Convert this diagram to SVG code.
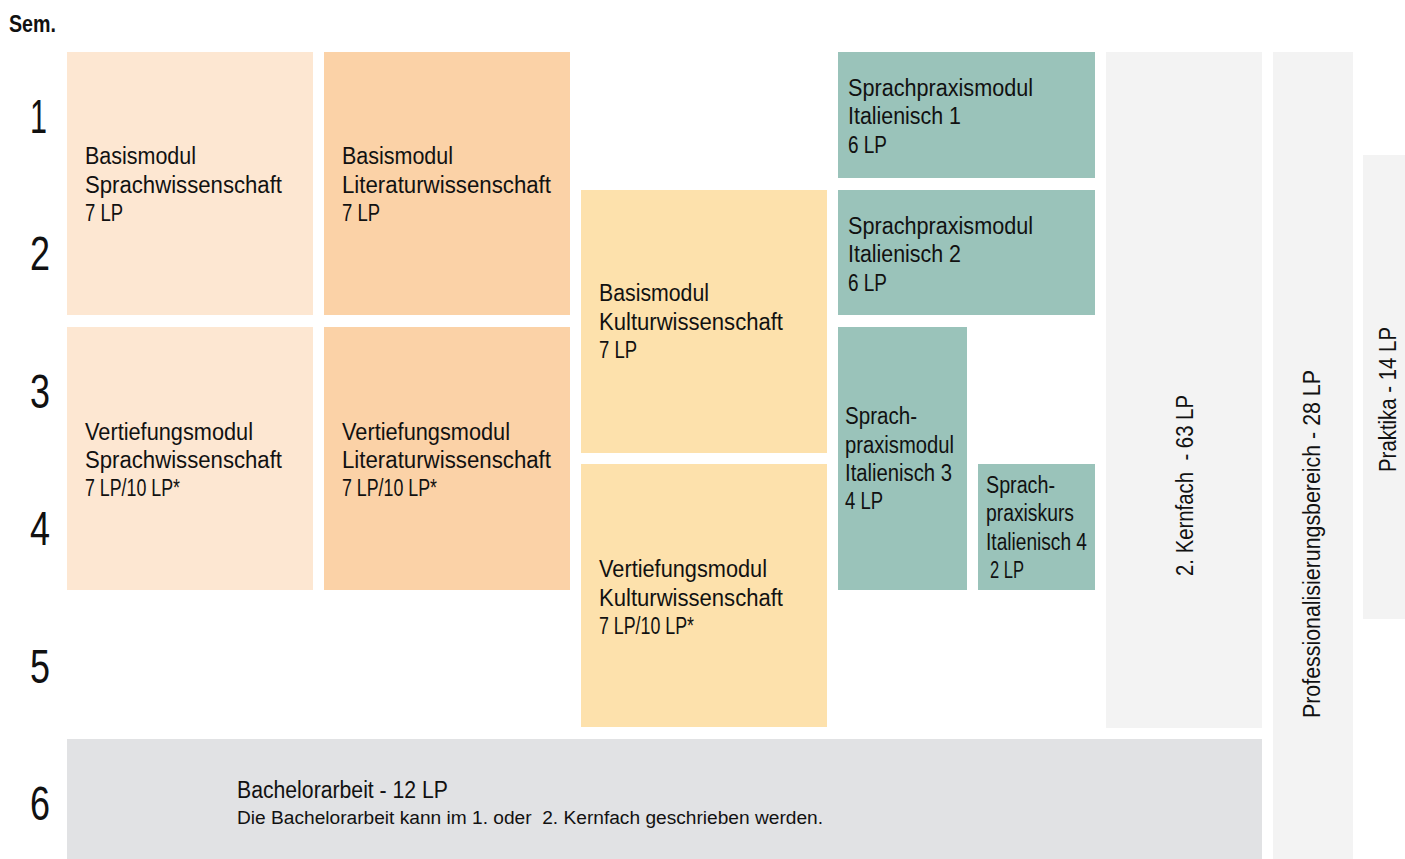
<svg xmlns="http://www.w3.org/2000/svg" width="1405" height="859" viewBox="0 0 1405 859">
<style>
text{font-family:"Liberation Sans",Arial,sans-serif;fill:#111;}
.m{font-size:23.5px;}
.s{font-size:48px;}
.sm{font-size:18px;}
.v{font-size:23.5px;text-anchor:middle;}
.sprach{fill:#fde7d2;}
.lit{fill:#fbd2a7;}
.kult{fill:#fde1ac;}
.green{fill:#9ac3ba;}
.grey{fill:#f3f3f3;}
.ba{fill:#e1e2e4;}
</style>
<rect width="1405" height="859" fill="#fff"/>
<g id="labels">
<text x="9" y="32" style="font-size:23px;font-weight:bold;" textLength="47" lengthAdjust="spacingAndGlyphs">Sem.</text>
<text class="s" x="30" y="133" textLength="17" lengthAdjust="spacingAndGlyphs">1</text>
<text class="s" x="30" y="270" textLength="20" lengthAdjust="spacingAndGlyphs">2</text>
<text class="s" x="30" y="408" textLength="20" lengthAdjust="spacingAndGlyphs">3</text>
<text class="s" x="30" y="545" textLength="20" lengthAdjust="spacingAndGlyphs">4</text>
<text class="s" x="30" y="683" textLength="20" lengthAdjust="spacingAndGlyphs">5</text>
<text class="s" x="30" y="820" textLength="20" lengthAdjust="spacingAndGlyphs">6</text>
</g>
<g id="connectors"></g>
<g id="kernfach2">
<rect class="grey" x="1106" y="52" width="156" height="676"/>
<text class="v" transform="translate(1193,485.5) rotate(-90)" xml:space="preserve" textLength="181" lengthAdjust="spacingAndGlyphs">2. Kernfach  - 63 LP</text>
</g>
<g id="profbereich">
<rect class="grey" x="1273" y="52" width="80" height="807"/>
<text class="v" transform="translate(1320,544) rotate(-90)" textLength="348" lengthAdjust="spacingAndGlyphs">Professionalisierungsbereich - 28 LP</text>
</g>
<g id="praktika">
<rect class="grey" x="1363" y="155" width="42" height="464"/>
<text class="v" transform="translate(1396,399.5) rotate(-90)" textLength="145" lengthAdjust="spacingAndGlyphs">Praktika - 14 LP</text>
</g>
<g id="basis-sprach">
<rect class="sprach" x="67" y="52" width="246" height="263"/>
<text class="m" x="85" y="164" textLength="111" lengthAdjust="spacingAndGlyphs">Basismodul</text>
<text class="m" x="85" y="193" textLength="197" lengthAdjust="spacingAndGlyphs">Sprachwissenschaft</text>
<text class="m" x="85" y="221" textLength="38" lengthAdjust="spacingAndGlyphs">7 LP</text>
</g>
<g id="vert-sprach">
<rect class="sprach" x="67" y="327" width="246" height="263"/>
<text class="m" x="85" y="440" textLength="168" lengthAdjust="spacingAndGlyphs">Vertiefungsmodul</text>
<text class="m" x="85" y="468" textLength="197" lengthAdjust="spacingAndGlyphs">Sprachwissenschaft</text>
<text class="m" x="85" y="496" textLength="95" lengthAdjust="spacingAndGlyphs">7 LP/10 LP*</text>
</g>
<g id="basis-lit">
<rect class="lit" x="324" y="52" width="246" height="263"/>
<text class="m" x="342" y="164" textLength="111" lengthAdjust="spacingAndGlyphs">Basismodul</text>
<text class="m" x="342" y="193" textLength="209" lengthAdjust="spacingAndGlyphs">Literaturwissenschaft</text>
<text class="m" x="342" y="221" textLength="38" lengthAdjust="spacingAndGlyphs">7 LP</text>
</g>
<g id="vert-lit">
<rect class="lit" x="324" y="327" width="246" height="263"/>
<text class="m" x="342" y="440" textLength="168" lengthAdjust="spacingAndGlyphs">Vertiefungsmodul</text>
<text class="m" x="342" y="468" textLength="209" lengthAdjust="spacingAndGlyphs">Literaturwissenschaft</text>
<text class="m" x="342" y="496" textLength="95" lengthAdjust="spacingAndGlyphs">7 LP/10 LP*</text>
</g>
<g id="basis-kult">
<rect class="kult" x="581" y="190" width="246" height="263"/>
<text class="m" x="599" y="301" textLength="110" lengthAdjust="spacingAndGlyphs">Basismodul</text>
<text class="m" x="599" y="330" textLength="184" lengthAdjust="spacingAndGlyphs">Kulturwissenschaft</text>
<text class="m" x="599" y="358" textLength="38" lengthAdjust="spacingAndGlyphs">7 LP</text>
</g>
<g id="vert-kult">
<rect class="kult" x="581" y="464" width="246" height="263"/>
<text class="m" x="599" y="577" textLength="168" lengthAdjust="spacingAndGlyphs">Vertiefungsmodul</text>
<text class="m" x="599" y="606" textLength="184" lengthAdjust="spacingAndGlyphs">Kulturwissenschaft</text>
<text class="m" x="599" y="634" textLength="95" lengthAdjust="spacingAndGlyphs">7 LP/10 LP*</text>
</g>
<g id="sp1">
<rect class="green" x="838" y="52" width="257" height="126"/>
<text class="m" x="848" y="96" textLength="185" lengthAdjust="spacingAndGlyphs">Sprachpraxismodul</text>
<text class="m" x="848" y="124" textLength="113" lengthAdjust="spacingAndGlyphs">Italienisch 1</text>
<text class="m" x="848" y="153" textLength="39" lengthAdjust="spacingAndGlyphs">6 LP</text>
</g>
<g id="sp2">
<rect class="green" x="838" y="190" width="257" height="125"/>
<text class="m" x="848" y="234" textLength="185" lengthAdjust="spacingAndGlyphs">Sprachpraxismodul</text>
<text class="m" x="848" y="262" textLength="113" lengthAdjust="spacingAndGlyphs">Italienisch 2</text>
<text class="m" x="848" y="291" textLength="39" lengthAdjust="spacingAndGlyphs">6 LP</text>
</g>
<g id="sp3">
<rect class="green" x="838" y="327" width="129" height="263"/>
<text class="m" x="845" y="424" textLength="72" lengthAdjust="spacingAndGlyphs">Sprach-</text>
<text class="m" x="845" y="453" textLength="109" lengthAdjust="spacingAndGlyphs">praxismodul</text>
<text class="m" x="845" y="481" textLength="107" lengthAdjust="spacingAndGlyphs">Italienisch 3</text>
<text class="m" x="845" y="509" textLength="38" lengthAdjust="spacingAndGlyphs">4 LP</text>
</g>
<g id="sp4">
<rect class="green" x="978" y="464" width="117" height="126"/>
<text class="m" x="986" y="493" textLength="69" lengthAdjust="spacingAndGlyphs">Sprach-</text>
<text class="m" x="986" y="521" textLength="88" lengthAdjust="spacingAndGlyphs">praxiskurs</text>
<text class="m" x="986" y="550" textLength="101" lengthAdjust="spacingAndGlyphs">Italienisch 4</text>
<text class="m" x="990" y="578" textLength="34" lengthAdjust="spacingAndGlyphs">2 LP</text>
</g>
<g id="bachelorarbeit">
<rect class="ba" x="67" y="739" width="1195" height="120"/>
<text class="m" x="237" y="798" textLength="211" lengthAdjust="spacingAndGlyphs">Bachelorarbeit - 12 LP</text>
<text class="sm" x="237" y="824" xml:space="preserve" textLength="586" lengthAdjust="spacingAndGlyphs">Die Bachelorarbeit kann im 1. oder  2. Kernfach geschrieben werden.</text>
</g>
</svg>
